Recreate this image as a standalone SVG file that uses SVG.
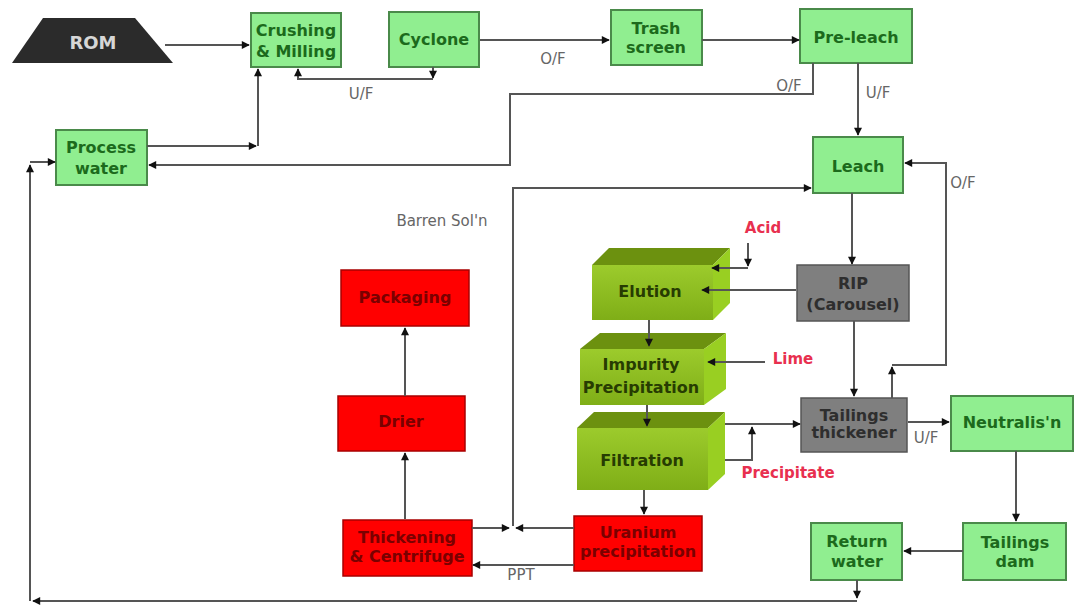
<svg xmlns="http://www.w3.org/2000/svg" width="1075" height="606" viewBox="0 0 1075 606">
<style>
  .g rect{fill:#90ee90;stroke:#4a8a4a;stroke-width:2}
  .g text{fill:#1c6a1c}
  .r rect{fill:#ff0000;stroke:#a80000;stroke-width:1.5}
  .r text{fill:#7a0000}
  .k rect{fill:#7f7f7f;stroke:#555;stroke-width:1.5}
  .k text{fill:#2e2e2e}
  .o .fr{fill:url(#olive)}
  .o .tp{fill:#6c910f}
  .o .sd{fill:#99cf22}
  .o text{fill:#273c02}
  text{font-family:"DejaVu Sans","Liberation Sans",sans-serif;font-weight:bold;font-size:16px;text-anchor:middle}
  .lbl{font-weight:normal;fill:#666;font-size:15px}
  .red{fill:#e8304f;font-size:15px}
  #conn path{fill:none;stroke:#555;stroke-width:2;marker-end:url(#ah)}
</style>
<defs>
  <marker id="ah" viewBox="0 0 10 10" refX="9" refY="5" markerWidth="9" markerHeight="8" markerUnits="userSpaceOnUse" orient="auto">
    <path d="M0,0 L10,5 L0,10 z" fill="#111"/>
  </marker>
  <linearGradient id="olive" x1="0" y1="0" x2="0" y2="1">
    <stop offset="0" stop-color="#9ccb2c"/>
    <stop offset="1" stop-color="#7fae17"/>
  </linearGradient>
</defs>
<rect width="1075" height="606" fill="#fff"/>

<g id="labels">
  <text class="lbl" x="553" y="64">O/F</text>
  <text class="lbl" x="361" y="99">U/F</text>
  <text class="lbl" x="789" y="91">O/F</text>
  <text class="lbl" x="878" y="98">U/F</text>
  <text class="lbl" x="963" y="188">O/F</text>
  <text class="lbl" x="442" y="226">Barren Sol'n</text>
  <text class="lbl" x="926" y="443">U/F</text>
  <text class="lbl" x="521" y="580">PPT</text>
  <text class="red" x="763" y="233">Acid</text>
  <text class="red" x="793" y="364">Lime</text>
  <text class="red" x="788" y="478">Precipitate</text>
</g>

<g id="rom">
  <polygon points="43,18 135,18 173,63 12,63" fill="#2b2b2b"/>
  <text x="93" y="49" fill="#d6d6d6" style="font-size:18px">ROM</text>
</g>
<g id="crushing" class="g">
  <rect x="251" y="13" width="90" height="54"/>
  <text x="296" y="36">Crushing</text>
  <text x="296" y="57">&amp; Milling</text>
</g>
<g id="cyclone" class="g">
  <rect x="389" y="12" width="90" height="55"/>
  <text x="434" y="45">Cyclone</text>
</g>
<g id="trash" class="g">
  <rect x="611" y="10" width="91" height="55"/>
  <text x="656" y="34">Trash</text>
  <text x="656" y="53">screen</text>
</g>
<g id="preleach" class="g">
  <rect x="800" y="9" width="112" height="54"/>
  <text x="856" y="43">Pre-leach</text>
</g>
<g id="leach" class="g">
  <rect x="813" y="137" width="90" height="56"/>
  <text x="858" y="172">Leach</text>
</g>
<g id="processwater" class="g">
  <rect x="56" y="130" width="91" height="55"/>
  <text x="101" y="153">Process</text>
  <text x="101" y="174">water</text>
</g>
<g id="rip" class="k">
  <rect x="797" y="265" width="112" height="56"/>
  <text x="853" y="289">RIP</text>
  <text x="853" y="310">(Carousel)</text>
</g>
<g id="thickener" class="k">
  <rect x="801" y="398" width="106" height="54"/>
  <text x="854" y="421">Tailings</text>
  <text x="854" y="438">thickener</text>
</g>
<g id="neutralis" class="g">
  <rect x="951" y="396" width="122" height="55"/>
  <text x="1012" y="428">Neutralis'n</text>
</g>
<g id="tailingsdam" class="g">
  <rect x="963" y="523" width="103" height="57"/>
  <text x="1015" y="548">Tailings</text>
  <text x="1015" y="567">dam</text>
</g>
<g id="returnwater" class="g">
  <rect x="811" y="523" width="91" height="57"/>
  <text x="857" y="547">Return</text>
  <text x="857" y="567">water</text>
</g>
<g id="packaging" class="r">
  <rect x="341" y="270" width="128" height="56"/>
  <text x="405" y="303">Packaging</text>
</g>
<g id="drier" class="r">
  <rect x="338" y="396" width="127" height="55"/>
  <text x="401" y="427">Drier</text>
</g>
<g id="thickening" class="r">
  <rect x="343" y="520" width="129" height="56"/>
  <text x="407" y="543">Thickening</text>
  <text x="407" y="562">&amp; Centrifuge</text>
</g>
<g id="uranium" class="r">
  <rect x="574" y="516" width="128" height="55"/>
  <text x="638" y="538">Uranium</text>
  <text x="638" y="557">precipitation</text>
</g>
<g id="elution" class="o">
  <polygon class="tp" points="592,265 609,248 730,248 713,265"/>
  <polygon class="sd" points="713,265 730,248 730,303 713,320"/>
  <rect class="fr" x="592" y="265" width="121" height="55"/>
  <text x="650" y="297">Elution</text>
</g>
<g id="impurity" class="o">
  <polygon class="tp" points="580,349 600,333 726,333 704,349"/>
  <polygon class="sd" points="704,349 726,333 726,389 704,405"/>
  <rect class="fr" x="580" y="349" width="124" height="56"/>
  <text x="641" y="370">Impurity</text>
  <text x="641" y="393">Precipitation</text>
</g>
<g id="filtration" class="o">
  <polygon class="tp" points="577,428 594,412 725,412 708,428"/>
  <polygon class="sd" points="708,428 725,412 725,474 708,490"/>
  <rect class="fr" x="577" y="428" width="131" height="62"/>
  <text x="642" y="466">Filtration</text>
</g>

<g id="conn">
  <path d="M165,45 H249"/>
  <path d="M480,40 H609"/>
  <path d="M702,40 H799"/>
  <path d="M433,67 V78"/>
  <path d="M433,79 H298 V69"/>
  <path d="M147,146 H256"/>
  <path d="M258,146 V69"/>
  <path d="M813,63 V94 H510 V165 H149"/>
  <path d="M858,63 V135"/>
  <path d="M852,193 V264"/>
  <path d="M892,398 V367"/>
  <path d="M892,365 H946 V163 H905"/>
  <path d="M472,528 H509"/>
  <path d="M574,528 H516"/>
  <path d="M513,526 V188 H811"/>
  <path d="M574,565 H473"/>
  <path d="M405,519 V453"/>
  <path d="M405,396 V328"/>
  <path d="M649,320 V346"/>
  <path d="M647,405 V426"/>
  <path d="M644,490 V514"/>
  <path d="M748,243 V266"/>
  <path d="M748,268 H712"/>
  <path d="M796,290 H702"/>
  <path d="M765,362 H708"/>
  <path d="M854,321 V396"/>
  <path d="M725,424 H800"/>
  <path d="M725,460 H752 V427"/>
  <path d="M908,422 H949"/>
  <path d="M1016,451 V521"/>
  <path d="M963,551 H904"/>
  <path d="M857,580 V598"/>
  <path d="M857,601 H33"/>
  <path d="M30,601 V165"/>
  <path d="M30,162 H55"/>
</g>
</svg>
